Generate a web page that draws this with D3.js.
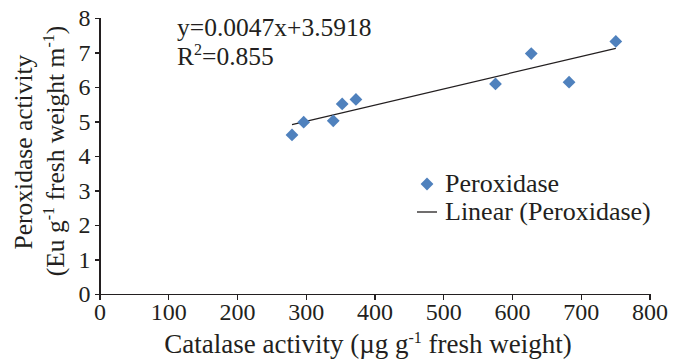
<!DOCTYPE html>
<head>
    <title>Peroxidase vs Catalase</title>
    <meta charset="utf-8" />
</head>

<style>
    body {
        margin: 0;
        background: #ffffff;
    }

    text {
        font-family: "Liberation Serif", "Times New Roman", serif;
        fill: #231f20;
    }

    .axis path,
    .axis line {
        fill: none;
        stroke: #231f20;
        stroke-width: 1.3px;
        shape-rendering: crispEdges;
    }

    .point {
        fill: #4f81bd;
    }

    .trend {
        fill: none;
        stroke: #231f20;
        stroke-width: 1.2px;
    }
</style>

<body>
    <svg id="chart" width="679" height="360"></svg>

    <script src="https://d3js.org/d3.v7.min.js"></script>

    <script>
        // data
        var catalase = [280, 297, 340, 353, 373, 576, 628, 683, 751];
        var peroxidase = [4.61, 4.98, 5.02, 5.51, 5.64, 6.09, 6.97, 6.14, 7.32];
        var slope = 0.0047,
            intercept = 3.5918;
        var xTicks = [0, 100, 200, 300, 400, 500, 600, 700, 800];
        var yTicks = [0, 1, 2, 3, 4, 5, 6, 7, 8];

        var margin = {
            top: 18,
            right: 30,
            bottom: 66,
            left: 99.5
        };

        var width = 649.5 - margin.left,
            height = 294 - margin.top;

        var svg = d3.select("#chart")
            .append("g")
            .attr("transform", "translate(" + margin.left + "," + margin.top + ")");

        var x = d3.scaleLinear().domain([0, 800]).range([0, width]);
        var y = d3.scaleLinear().domain([0, 8]).range([height, 0]);

        var xAxis = d3.axisBottom(x).tickValues(xTicks).tickSize(6).tickSizeOuter(6).tickPadding(3);
        var yAxis = d3.axisLeft(y).tickValues(yTicks).tickSize(5).tickSizeOuter(5).tickPadding(4);

        svg.append("g")
            .attr("class", "x axis")
            .attr("transform", "translate(0," + height + ")")
            .call(xAxis)
            .selectAll("text")
            .attr("font-size", "24px");

        svg.append("g")
            .attr("class", "y axis")
            .call(yAxis)
            .selectAll("text")
            .attr("font-size", "24px");

        svg.selectAll(".axis text").attr("fill", "#231f20");

        // trend line over the data range
        var xr = d3.extent(catalase);
        svg.append("line")
            .attr("class", "trend")
            .attr("x1", x(xr[0]))
            .attr("y1", y(slope * xr[0] + intercept))
            .attr("x2", x(xr[1]))
            .attr("y2", y(slope * xr[1] + intercept));

        var diamond = d3.symbol().type(d3.symbolSquare).size(82);

        svg.selectAll(".point")
            .data(catalase)
            .enter().append("path")
            .attr("class", "point")
            .attr("d", diamond)
            .attr("transform", function(d, i) {
                return "translate(" + x(d) + "," + y(peroxidase[i]) + ") rotate(45)";
            });

        // equation
        var root = d3.select("#chart");
        root.append("text")
            .attr("x", 177)
            .attr("y", 36)
            .attr("font-size", "25.5px")
            .text("y=0.0047x+3.5918");

        var r2 = root.append("text")
            .attr("x", 177)
            .attr("y", 65)
            .attr("font-size", "25.5px");
        r2.append("tspan").text("R");
        r2.append("tspan").attr("font-size", "16px").attr("dy", "-10").text("2");
        r2.append("tspan").attr("dy", "10").text("=0.855");

        // legend
        root.append("path")
            .attr("class", "point")
            .attr("d", diamond)
            .attr("transform", "translate(427,184) rotate(45)");

        root.append("text")
            .attr("x", 445)
            .attr("y", 192)
            .attr("font-size", "26px")
            .text("Peroxidase");

        root.append("line")
            .attr("x1", 417)
            .attr("x2", 437)
            .attr("y1", 212)
            .attr("y2", 212)
            .attr("stroke", "#231f20")
            .attr("stroke-width", 1.3);

        root.append("text")
            .attr("x", 445)
            .attr("y", 220)
            .attr("font-size", "26px")
            .text("Linear (Peroxidase)");

        // x title
        var xt = root.append("text")
            .attr("x", 368)
            .attr("y", 353)
            .attr("text-anchor", "middle")
            .attr("font-size", "27px");
        xt.append("tspan").text("Catalase activity (\u00b5g g");
        xt.append("tspan").attr("font-size", "16px").attr("dy", "-10").text("-1");
        xt.append("tspan").attr("dy", "10").text(" fresh weight)");

        // y title, two lines
        root.append("text")
            .attr("transform", "translate(32,152) rotate(-90)")
            .attr("text-anchor", "middle")
            .attr("font-size", "25.5px")
            .text("Peroxidase activity");

        var yt = root.append("text")
            .attr("transform", "translate(64,151) rotate(-90)")
            .attr("text-anchor", "middle")
            .attr("font-size", "25.5px");
        yt.append("tspan").text("(Eu g");
        yt.append("tspan").attr("font-size", "16px").attr("dy", "-10").text("-1");
        yt.append("tspan").attr("dy", "10").text(" fresh weight m");
        yt.append("tspan").attr("font-size", "16px").attr("dy", "-10").text("-1");
        yt.append("tspan").attr("dy", "10").text(")");
    </script>
</body>
